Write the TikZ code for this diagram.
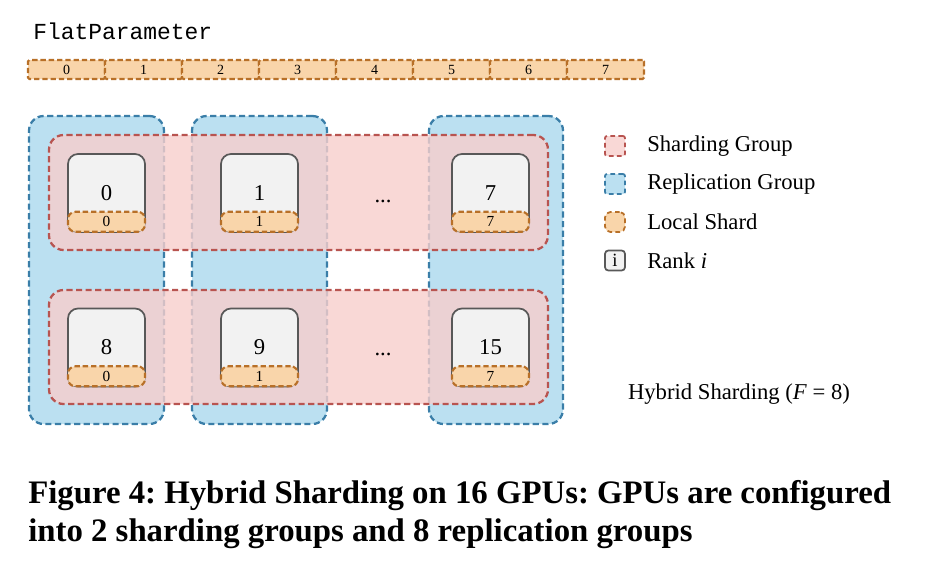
\documentclass[tikz,border=0pt]{standalone}
\usepackage{fontspec}
\setmainfont{Liberation Serif}
\setmonofont{Liberation Mono}
\definecolor{shardfill}{RGB}{248,206,204}
\definecolor{shardline}{RGB}{184,84,80}
\definecolor{repfill}{RGB}{187,224,241}
\definecolor{repline}{RGB}{58,126,168}
\definecolor{localfill}{RGB}{249,213,170}
\definecolor{localline}{RGB}{184,112,40}
\definecolor{rankfill}{RGB}{242,242,242}
\definecolor{rankline}{RGB}{88,88,88}
\frenchspacing
\begin{document}
\begin{tikzpicture}[x=0.75pt,y=-0.75pt,
  grpdash/.style={dash pattern=on 4.6pt off 2.6pt, line width=1.7pt},
  repgroup/.style={grpdash, draw=repline, fill=repfill, rounded corners=11pt, inner sep=0pt},
  shgroup/.style={grpdash, draw=shardline, fill=shardfill, fill opacity=0.8, draw opacity=1, rounded corners=11pt, inner sep=0pt},
  rankbox/.style={draw=rankline, fill=rankfill, line width=1.3pt, rounded corners=7.5pt, minimum width=57.75pt, minimum height=58.5pt, inner sep=0pt, font=\fontsize{17}{20}\selectfont},
  localbox/.style={draw=localline, fill=localfill, dash pattern=on 4pt off 2.2pt, line width=1.6pt, rounded corners=5.5pt, minimum width=57.75pt, minimum height=15pt, inner sep=0pt, font=\fontsize{11.5}{13}\selectfont, anchor=south},
  barseg/.style={draw=localline, fill=localfill, dash pattern=on 4pt off 2.2pt, line width=1.6pt, rounded corners=1pt, minimum width=57.75pt, minimum height=14.25pt, inner sep=0pt, font=\fontsize{10.5}{12}\selectfont},
  lbl/.style={font=\fontsize{17}{20}\selectfont, inner sep=0pt},
  legsq/.style={minimum width=15pt, minimum height=15pt, inner sep=0pt, line width=1.3pt},
  captxt/.style={anchor=base west, inner sep=0pt, font=\bfseries\fontsize{24.6}{28}\selectfont},
]
\useasboundingbox (0,0) rectangle (928,572);

% FlatParameter bar
\node[anchor=west, inner sep=0pt, font=\ttfamily\fontsize{17.2}{20}\selectfont] (fp) at (33,31) {FlatParameter};
\foreach \k in {0,...,7} {
  \node[barseg] (b\k) at ({66.5+77*\k},69.5) {\k};
}

% replication groups
\node[repgroup, minimum width=101.25pt, minimum height=231pt] (rep1) at (96.5,270) {};
\node[repgroup, minimum width=101.25pt, minimum height=231pt] (rep2) at (259.5,270) {};
\node[repgroup, minimum width=100.5pt, minimum height=231pt] (rep3) at (496,270) {};

% sharding groups
\node[shgroup, minimum width=374.25pt, minimum height=86.25pt] (sh1) at (298.5,192.5) {};
\node[shgroup, minimum width=374.25pt, minimum height=85.5pt] (sh2) at (298.5,347) {};

% rank boxes
\node[rankbox] (r0) at (106.5,193) {0};
\node[rankbox] (r1) at (259.5,193) {1};
\node[rankbox] (r7) at (490.5,193) {7};
\node[rankbox] (r8) at (106.5,347.5) {8};
\node[rankbox] (r9) at (259.5,347.5) {9};
\node[rankbox] (r15) at (490.5,347.5) {15};

\node[localbox] (l0) at (r0.south) {0};
\node[localbox] (l1) at (r1.south) {1};
\node[localbox] (l7) at (r7.south) {7};
\node[localbox] (l8) at (r8.south) {0};
\node[localbox] (l9) at (r9.south) {1};
\node[localbox] (l15) at (r15.south) {7};

\node[lbl] (d1) at (383,201) {...};
\node[lbl] (d2) at (383,354) {...};

% legend
\node[legsq, draw=shardline, fill=shardfill, fill opacity=0.8, draw opacity=1, dash pattern=on 3.5pt off 2.5pt, rounded corners=1.5pt] (k1) at (615,146) {};
\node[legsq, draw=repline, fill=repfill, dash pattern=on 3.5pt off 2.5pt, rounded corners=1.5pt] (k2) at (615,184) {};
\node[legsq, draw=localline, fill=localfill, dash pattern=on 3.5pt off 2.5pt, rounded corners=4pt] (k3) at (615,222) {};
\node[legsq, draw=rankline, fill=rankfill, rounded corners=2.5pt, font=\fontsize{14}{15}\selectfont] (k4) at (615,260.5) {i};
\node[lbl, anchor=west] (t1) at (647,146) {Sharding Group};
\node[lbl, anchor=west] (t2) at (647,184) {Replication Group};
\node[lbl, anchor=west] (t3) at (647,222) {Local Shard};
\node[lbl, anchor=west] (t4) at (647,261) {Rank \textit{i}};

\node[lbl] (hs) at (739,394) {Hybrid Sharding (\textit{F} = 8)};

% caption
\node[captxt] (c1) at (28,503) {Figure 4: Hybrid Sharding on 16 GPUs: GPUs are configured};
\node[captxt] (c2) at (28,541) {into 2 sharding groups and 8 replication groups};
\end{tikzpicture}
\end{document}
